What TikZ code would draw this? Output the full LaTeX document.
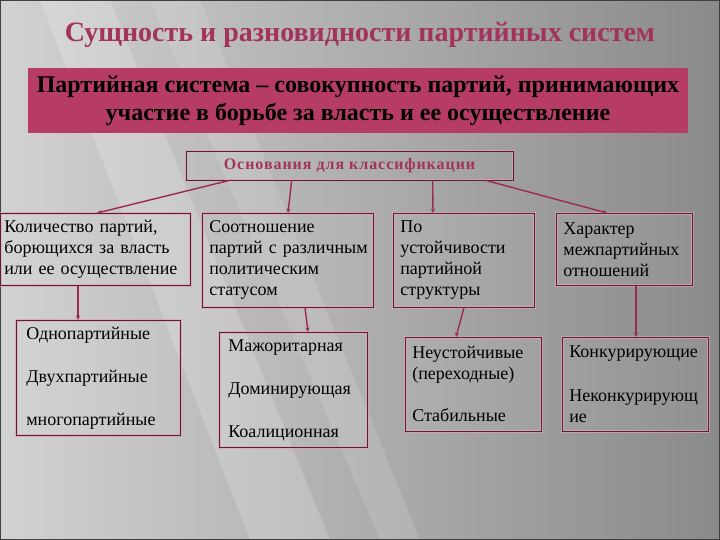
\documentclass[tikz,border=0pt]{standalone}
\usepackage{fontspec}
\setmainfont{Liberation Serif}
\usetikzlibrary{arrows.meta,calc}
\definecolor{crim}{HTML}{A3325C}
\definecolor{pinkfill}{HTML}{B63C66}
\definecolor{maroon}{HTML}{5E1C38}
\definecolor{conncol}{HTML}{9C2A55}
\definecolor{glow}{HTML}{D9A3B8}
\definecolor{bgl}{HTML}{D2D2D2}
\definecolor{bgr}{HTML}{8A8A8A}
\tikzset{
  box/.style={draw=maroon, line width=0.7pt, fill=white, fill opacity=0.06, text opacity=1,
    preaction={draw=glow, line width=2.6pt, draw opacity=0.7},
    align=left, anchor=north west, inner ysep=0pt,
    font=\fontsize{18}{21}\selectfont},
  conn/.style={draw=conncol, line width=1.4pt, -{Stealth[length=4.5pt,width=4pt]}},
}
\begin{document}
\begin{tikzpicture}[x=1pt,y=-1pt]
\useasboundingbox (0,0) rectangle (720,540);
% background
\shade[left color=bgl, right color=bgr] (0,0) rectangle (720,540);
\fill[white, opacity=0.18] (40,0) -- (110,0) -- (330,540) -- (250,540) -- cycle;
\fill[white, opacity=0.12] (150,0) -- (200,0) -- (420,540) -- (380,540) -- cycle;
\draw[black!75, line width=2.5pt] (0,0) rectangle (720,540);
% title
\node[text=crim, font=\fontsize{28}{32}\selectfont\bfseries] (title) at (360,35) {Сущность и разновидности партийных систем};
% definition
\node[fill=pinkfill, minimum width=660pt, minimum height=65pt, inner sep=0pt, align=center,
  font=\fontsize{24}{28}\selectfont\bfseries] (def) at (358,100.5)
  {Партийная система – совокупность партий, принимающих\\участие в борьбе за власть и ее осуществление};
% classification
\node[draw=maroon, line width=0.7pt, preaction={draw=glow, line width=2.6pt, draw opacity=0.7},
  minimum width=327pt, minimum height=29pt, inner sep=0pt, text=crim,
  font=\fontsize{16}{18}\selectfont\bfseries\addfontfeature{LetterSpace=6}] (cls) at (349.5,165.5) {Основания для классификации};
% row 1
\node[box, text width=182pt, inner xsep=4pt, minimum height=72pt] (A) at (0,213)
  {Количество партий,\\борющихся за власть\\\mbox{или ее осуществление}};
\node[box, text width=157pt, inner xsep=7pt, minimum height=94pt] (B) at (202,213)
  {Соотношение\\\mbox{партий с различным}\\политическим\\статусом};
\node[box, text width=127pt, inner xsep=7pt, minimum height=94pt] (C) at (393,213)
  {По\\устойчивости\\партийной\\структуры};
\node[box, text width=122pt, inner xsep=7pt, minimum height=72pt] (D) at (556,213)
  {Характер\\межпартийных\\отношений};
% row 2
\node[box, text width=144pt, inner xsep=10pt, minimum height=115pt] (E) at (16,320)
  {Однопартийные\\[22pt]Двухпартийные\\[22pt]многопартийные};
\node[box, text width=130pt, inner xsep=9pt, minimum height=115pt] (F) at (219,332)
  {Мажоритарная\\[22pt]Доминирующая\\[22pt]Коалиционная};
\node[box, text width=122pt, inner xsep=7pt, minimum height=94pt] (G) at (405,337)
  {Неустойчивые\\(переходные)\\[21pt]Стабильные};
\node[box, text width=132pt, inner xsep=7pt, minimum height=94pt] (H) at (562,337)
  {Конкурирующие\\[23pt]Неконкурирующ\\ие};
% connectors
\draw[conn] ([xshift=44pt]cls.south west) -- ([xshift=97pt]A.north west);
\draw[conn] ([xshift=106pt]cls.south west) -- ([xshift=86pt]B.north west);
\draw[conn] ([xshift=247pt]cls.south west) -- ([xshift=40pt]C.north west);
\draw[conn] ([xshift=300pt]cls.south west) -- ([xshift=51pt]D.north west);
\draw[conn] ([xshift=78pt]A.south west) -- ([xshift=62pt]E.north west);
\draw[conn] ([xshift=103pt]B.south west) -- ([xshift=89pt]F.north west);
\draw[conn] ([xshift=71pt]C.south west) -- ([xshift=51pt]G.north west);
\draw[conn] ([xshift=80pt]D.south west) -- ([xshift=74pt]H.north west);
\end{tikzpicture}
\end{document}
